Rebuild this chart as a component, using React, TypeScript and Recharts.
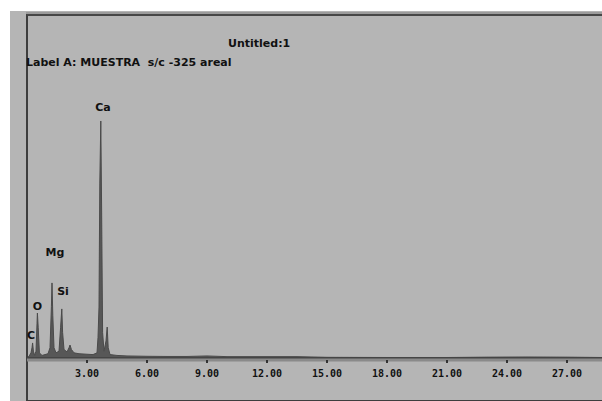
import React from "react";
import { ComposedChart, Area, XAxis, YAxis, ReferenceDot } from "recharts";

// Spectrum: energy (keV) and counts
const energies = [
  0.0, 0.1, 0.2, 0.25, 0.28, 0.32, 0.38, 0.45, 0.5, 0.52, 0.56, 0.62, 0.75, 0.9, 1.05, 1.15,
  1.22, 1.25, 1.29, 1.35, 1.45, 1.6, 1.68, 1.74, 1.78, 1.85, 2.0, 2.1, 2.15, 2.22, 2.35, 2.6,
  3.0, 3.3, 3.5, 3.55, 3.6, 3.64, 3.69, 3.73, 3.78, 3.85, 3.95, 4.01, 4.06, 4.15, 4.5, 5.0,
  6.0, 7.0, 8.0, 9.0, 10.0, 12.0, 13.5, 15.0, 18.0, 21.0, 23.0, 25.0, 27.0, 28.75,
];
const counts = [
  0, 10, 30, 60, 88, 40, 15, 40, 200, 263, 180, 30, 15, 20, 25, 60,
  300, 439, 250, 60, 30, 40, 180, 287, 150, 50, 35, 60, 76, 50, 30, 25,
  22, 20, 30, 120, 298, 1023, 1386, 883, 150, 40, 100, 181, 60, 20, 15, 12,
  10, 9, 9, 12, 8, 8, 8, 4, 3, 3, 5, 6, 5, 3,
];

// Element labels
const elementNames = ["C", "O", "Mg", "Si", "Ca"];
const labelKev = [0.2, 0.52, 1.4, 1.8, 3.8];
const labelCounts = [134, 304, 620, 392, 1468];

const tickValues = [3, 6, 9, 12, 15, 18, 21, 24, 27];

const data = energies.map((e, i) => ({ kev: e, counts: counts[i] }));

const FONT = "'DejaVu Sans', sans-serif";
const MONO = "'DejaVu Sans Mono', monospace";
const BG = "#b5b5b5";

export default function App() {
  return (
    <div style={{ position: "absolute", left: 0, top: 0, width: 602, height: 401, background: "#ffffff", overflow: "hidden" }}>
      <div style={{ position: "absolute", left: 10, top: 11, width: 592, height: 390, background: BG }} />
      <div style={{ position: "absolute", left: 26, top: 12, width: 576, height: 0, borderTop: "2px solid #9c9c9c" }} />
      <div
        style={{
          position: "absolute",
          left: 26,
          top: 14,
          width: 576,
          height: 384,
          borderLeft: "2px solid #3e3e3e",
          borderTop: "2px solid #474747",
          borderBottom: "2px solid #3e3e3e",
        }}
      />
      <div style={{ position: "absolute", left: 0, top: 0 }}>
        <ComposedChart width={602} height={401} data={data} margin={{ top: 16, right: 0, bottom: 11, left: 27 }}>
          <YAxis hide type="number" domain={[0, 2000]} allowDataOverflow />
          <XAxis
            type="number"
            dataKey="kev"
            domain={[0, 28.75]}
            allowDataOverflow
            height={2}
            tick={false}
            tickLine={false}
            axisLine={{ stroke: "#454545", strokeWidth: 2 }}
          />
          <XAxis
            xAxisId="lbl"
            type="number"
            dataKey="kev"
            domain={[0, 28.75]}
            allowDataOverflow
            ticks={tickValues}
            tickFormatter={(v: number) => v.toFixed(2)}
            height={30}
            tickSize={3}
            tickMargin={7}
            tickLine={{ stroke: "#333333", strokeWidth: 2 }}
            axisLine={{ stroke: "#8a8a8a", strokeWidth: 3 }}
            tick={{ fontSize: 10, fontFamily: MONO, fontWeight: 700, fill: "#111111" }}
          />
          <Area
            type="linear"
            dataKey="counts"
            stroke="#4a4a4a"
            strokeWidth={1}
            fill="#575757"
            fillOpacity={1}
            isAnimationActive={false}
            dot={false}
            activeDot={false}
          />
          {elementNames.map((n, i) => (
            <ReferenceDot
              key={n}
              x={labelKev[i]}
              y={labelCounts[i]}
              r={0}
              fill="none"
              stroke="none"
              ifOverflow="visible"
              label={{ value: n, position: "center", fontSize: 11, fontWeight: 700, fontFamily: FONT, fill: "#111111" }}
            />
          ))}
        </ComposedChart>
      </div>
      <div style={{ position: "absolute", left: 228, top: 37, fontFamily: FONT, fontWeight: 700, fontSize: 11, color: "#111", whiteSpace: "pre" }}>
        Untitled:1
      </div>
      <div style={{ position: "absolute", left: 26, top: 56, fontFamily: FONT, fontWeight: 700, fontSize: 11, color: "#111", whiteSpace: "pre" }}>
        Label A: MUESTRA  s/c -325 areal
      </div>
    </div>
  );
}
